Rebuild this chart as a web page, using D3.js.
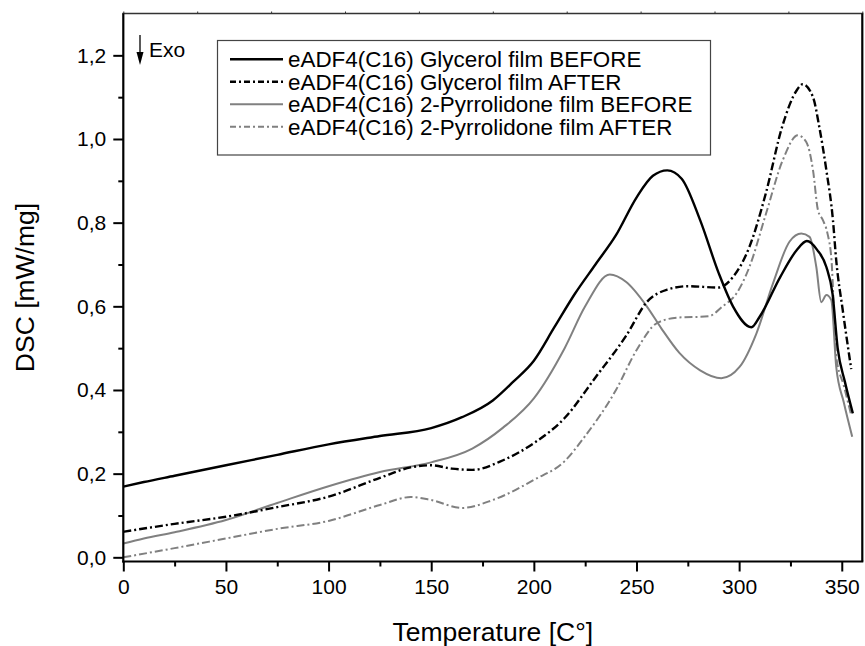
<!DOCTYPE html>
<html>
<head>
<meta charset="utf-8">
<script src="https://cdn.jsdelivr.net/npm/d3@7"></script>
<style>
  html, body { margin: 0; padding: 0; background: #fff; }
  svg { display: block; font-family: "Liberation Sans", Arial, Helvetica, sans-serif; }
</style>
</head>
<body>
<svg id="chart" width="865" height="646"></svg>
<script>
// ---- data ----
const seriesNames = [
  "eADF4(C16) Glycerol film BEFORE",
  "eADF4(C16) Glycerol film AFTER",
  "eADF4(C16) 2-Pyrrolidone film BEFORE",
  "eADF4(C16) 2-Pyrrolidone film AFTER"
];

const glyBeforeT = [0, 10, 25, 50, 75, 100, 125, 150, 165, 180, 190, 200, 210, 220, 230, 240, 250, 258, 265, 272, 281, 290, 297, 306, 310, 320, 328, 333, 338, 342.5, 345.5, 348, 351.5, 355.4];
const glyBeforeV = [0.169, 0.18, 0.195, 0.22, 0.245, 0.27, 0.29, 0.309, 0.335, 0.375, 0.42, 0.47, 0.55, 0.63, 0.70, 0.77, 0.86, 0.912, 0.925, 0.905, 0.806, 0.68, 0.60, 0.55, 0.575, 0.67, 0.734, 0.756, 0.735, 0.694, 0.63, 0.50, 0.42, 0.344];

const glyAfterT = [0, 25, 50, 75, 100, 125, 140, 150, 160, 170, 185, 200, 215, 230, 245, 255, 265, 275, 290, 297, 305, 313, 321, 328, 331, 336, 339, 342.5, 345.7, 347.3, 350.5, 354.6];
const glyAfterV = [0.061, 0.08, 0.097, 0.12, 0.145, 0.19, 0.215, 0.22, 0.212, 0.209, 0.232, 0.273, 0.333, 0.43, 0.53, 0.61, 0.64, 0.648, 0.645, 0.67, 0.742, 0.87, 1.03, 1.116, 1.131, 1.10, 1.03, 0.925, 0.806, 0.71, 0.59, 0.45];

const pyrBeforeT = [0, 10, 25, 50, 75, 100, 125, 150, 170, 185, 200, 215, 225, 237, 245, 255, 262, 271, 281, 291.3, 300.2, 308.4, 316.5, 324.6, 330.3, 334.3, 337.6, 340, 342.5, 344.9, 347.3, 351, 355.1];
const pyrBeforeV = [0.033, 0.045, 0.06, 0.089, 0.13, 0.17, 0.204, 0.227, 0.26, 0.31, 0.38, 0.5, 0.6, 0.676, 0.658, 0.60, 0.548, 0.488, 0.447, 0.428, 0.455, 0.535, 0.655, 0.755, 0.774, 0.766, 0.694, 0.61, 0.627, 0.615, 0.455, 0.37, 0.288];

const pyrAfterT = [0, 25, 50, 75, 100, 125, 140, 150, 165, 180, 200, 215, 225, 240, 250, 260, 270, 285, 292, 298.6, 305, 313, 321.3, 328.6, 332.7, 336, 338.4, 340.8, 343, 345, 347.3, 351, 354.6];
const pyrAfterV = [0.0, 0.022, 0.045, 0.068, 0.087, 0.125, 0.144, 0.137, 0.118, 0.137, 0.185, 0.23, 0.29, 0.40, 0.495, 0.56, 0.573, 0.576, 0.6, 0.63, 0.694, 0.82, 0.95, 1.009, 0.993, 0.925, 0.83, 0.806, 0.775, 0.71, 0.48, 0.41, 0.34];

const xTickValues = [0, 50, 100, 150, 200, 250, 300, 350];
const yTickValues = [0, 0.2, 0.4, 0.6, 0.8, 1.0, 1.2];
const xTitle = "Temperature [C°]";
const yTitle = "DSC [mW/mg]";
const exoLabel = "Exo";

// ---- layout ----
const svg = d3.select("#chart");
const L = 123.3, R = 862.3, T = 13.5, B = 561.5;
const x = d3.scaleLinear().domain([0, 360]).range([L, R]);
const y = d3.scaleLinear().domain([-0.01, 1.3]).range([B, T]);
const fmtY = v => d3.format(".1f")(v).replace(".", ",");

const styles = [
  { color: "#000", width: 2.4, dash: null },
  { color: "#000", width: 2.4, dash: "8,3,2,3" },
  { color: "#808080", width: 2, dash: null },
  { color: "#808080", width: 2, dash: "8,3,2,3" }
];

const data = [
  d3.zip(glyBeforeT, glyBeforeV),
  d3.zip(glyAfterT, glyAfterV),
  d3.zip(pyrBeforeT, pyrBeforeV),
  d3.zip(pyrAfterT, pyrAfterV)
];

const line = d3.line().x(d => x(d[0])).y(d => y(d[1])).curve(d3.curveMonotoneX);

// draw order: gray first then black on top
const order = [3, 2, 1, 0];
const g = svg.append("g");
order.forEach(i => {
  g.append("path")
    .datum(data[i])
    .attr("d", line)
    .attr("fill", "none")
    .attr("stroke", styles[i].color)
    .attr("stroke-width", styles[i].width)
    .attr("stroke-dasharray", styles[i].dash)
    .attr("stroke-linejoin", "round");
});

// ---- axes ----
const xAxis = d3.axisBottom(x).tickValues(xTickValues).tickFormat(d3.format("d")).tickSize(10).tickPadding(8);
const xMinor = d3.axisBottom(x).tickValues(d3.range(25, 360, 50)).tickFormat("").tickSize(5);
const yAxis = d3.axisLeft(y).tickValues(yTickValues).tickFormat(fmtY).tickSize(10).tickPadding(7);
const yMinor = d3.axisLeft(y).tickValues(d3.range(0.1, 1.25, 0.2)).tickFormat("").tickSize(5);
const topAxis = d3.axisTop(x).tickValues(d3.range(0, 361, 36)).tickFormat("").tickSize(2);

function styleAxis(sel, fs) {
  sel.select(".domain").remove();
  sel.selectAll(".tick line").attr("stroke", "#000").attr("stroke-width", 2);
  sel.selectAll(".tick text").attr("font-size", fs).attr("fill", "#000")
    .attr("font-family", "Liberation Sans, Arial, sans-serif");
}

svg.append("g").attr("transform", `translate(0,${B})`).call(xAxis).call(s => styleAxis(s, "21px"));
svg.append("g").attr("transform", `translate(0,${B})`).call(xMinor).call(s => styleAxis(s, "21px"));
svg.append("g").attr("transform", `translate(${L},0)`).call(yAxis).call(s => styleAxis(s, "21px"));
svg.append("g").attr("transform", `translate(${L},0)`).call(yMinor).call(s => styleAxis(s, "21px"));
svg.append("g").attr("transform", `translate(0,${T})`).call(topAxis)
  .call(s => { s.select(".domain").remove(); s.selectAll(".tick line").attr("stroke", "#333").attr("stroke-width", 1); });

// frame
svg.append("line").attr("x1", L - 1).attr("x2", R + 1).attr("y1", T).attr("y2", T).attr("stroke", "#333").attr("stroke-width", 1.6);
svg.append("line").attr("x1", R).attr("x2", R).attr("y1", T).attr("y2", B).attr("stroke", "#000").attr("stroke-width", 2.2);
svg.append("line").attr("x1", L).attr("x2", L).attr("y1", T).attr("y2", B + 1).attr("stroke", "#000").attr("stroke-width", 2.2);
svg.append("line").attr("x1", L - 1).attr("x2", R + 1).attr("y1", B).attr("y2", B).attr("stroke", "#000").attr("stroke-width", 2.2);

// axis titles
svg.append("text").attr("x", (L + R) / 2).attr("y", 641).attr("text-anchor", "middle")
  .attr("font-size", "26.5px").attr("fill", "#000").text(xTitle);
svg.append("text").attr("transform", `translate(34,${(T + B) / 2}) rotate(-90)`).attr("text-anchor", "middle")
  .attr("font-size", "26.5px").attr("fill", "#000").text(yTitle);

// Exo arrow
svg.append("line").attr("x1", 140).attr("x2", 140).attr("y1", 35).attr("y2", 56).attr("stroke", "#000").attr("stroke-width", 1.3);
svg.append("path").attr("d", "M136.5,52 L143.5,52 L140,65 Z").attr("fill", "#000");
svg.append("text").attr("x", 149).attr("y", 57).attr("font-size", "21px").attr("fill", "#000").text(exoLabel);

// legend
const lg = svg.append("g");
lg.append("rect").attr("x", 217.5).attr("y", 40.5).attr("width", 493).attr("height", 114.5)
  .attr("fill", "#fff").attr("stroke", "#444").attr("stroke-width", 1.2);
seriesNames.forEach((name, i) => {
  const cy = 59.3 + i * 22.45;
  lg.append("line").attr("x1", 230).attr("x2", 283).attr("y1", cy).attr("y2", cy)
    .attr("stroke", styles[i].color).attr("stroke-width", styles[i].width)
    .attr("stroke-dasharray", styles[i].dash ? "6,3,2,3" : null);
  lg.append("text").attr("x", 288).attr("y", cy + 8).attr("font-size", "22.4px").attr("fill", "#000").text(name);
});
</script>
</body>
</html>
